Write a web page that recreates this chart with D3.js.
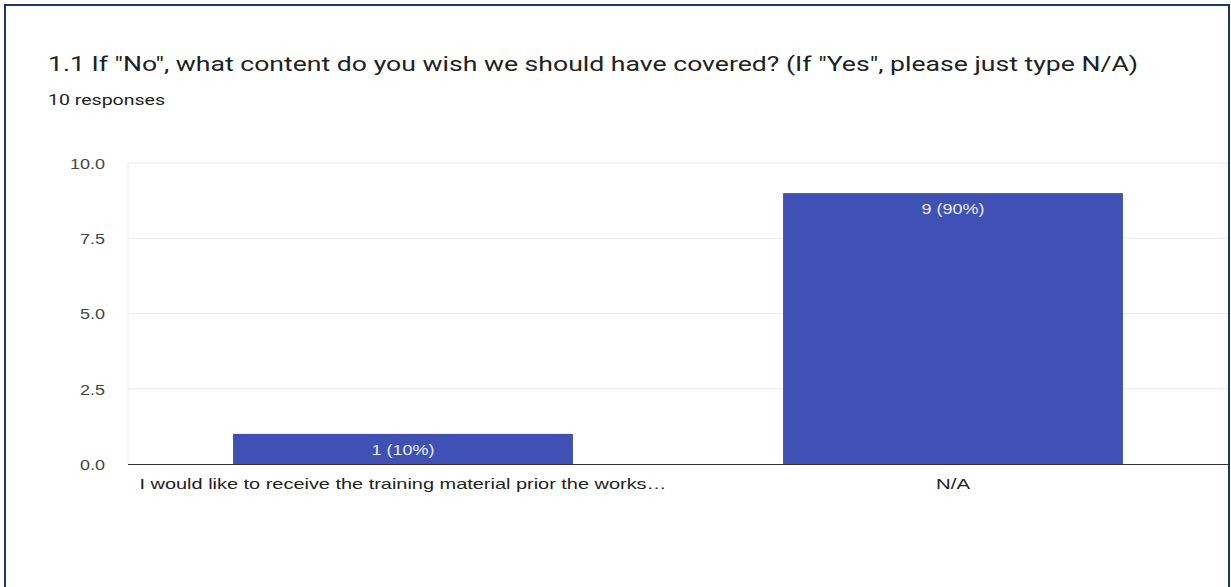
<!DOCTYPE html>
<html><head><meta charset="utf-8">
<script src="https://cdn.jsdelivr.net/npm/d3@7"></script>
<style>body{margin:0;background:#fff;}svg{display:block;}</style>
</head><body>
<script>
const title = '1.1 If "No", what content do you wish we should have covered? (If "Yes", please just type N/A)';
const subtitle = '10 responses';
const categories = ['I would like to receive the training material prior the works…', 'N/A'];
const values = [1, 9];
const labels = ['1 (10%)', '9 (90%)'];
const yTicks = [0, 2.5, 5, 7.5, 10];

const W = 1231, H = 587;
const STRETCH = 1.32;
function stretch(sel, k) {
  sel.each(function() {
    const n = this.getComputedTextLength();
    d3.select(this).attr('textLength', n * k).attr('lengthAdjust', 'spacingAndGlyphs');
  });
}

const svg = d3.select('body').append('svg').attr('width', W).attr('height', H);
svg.append('rect').attr('x',0).attr('y',0).attr('width',W).attr('height',H).attr('fill','#fff');
svg.append('path').attr('d', `M5,${H+2} L5,5 L1229,5 L1229,${H+2}`).attr('fill','none').attr('stroke','#1c3577').attr('stroke-width',2);

const t1 = svg.append('text').attr('x',48).attr('y',71).attr('font-family','Roboto, sans-serif').attr('font-size',21).attr('fill','#202124').text(title);
t1.attr('textLength', 1090).attr('lengthAdjust','spacingAndGlyphs');
const t2 = svg.append('text').attr('x',48).attr('y',105).attr('font-family','Roboto, sans-serif').attr('font-size',15).attr('fill','#202124').text(subtitle);
t2.attr('textLength', 117).attr('lengthAdjust','spacingAndGlyphs');

const y = d3.scaleLinear().domain([0,10]).range([464,163]);
const x = d3.scaleBand().domain(categories).range([128,1228]).paddingInner(0.382).paddingOuter(0.191);

svg.append('g').selectAll('line').data(yTicks.filter(t=>t>0)).join('line')
  .attr('x1',128).attr('x2',1228).attr('y1',d=>y(d)).attr('y2',d=>y(d))
  .attr('stroke','#ebebeb').attr('stroke-width',1);
svg.append('line').attr('x1',128).attr('x2',128).attr('y1',163).attr('y2',464).attr('stroke','#ebebeb');

const yAxis = d3.axisLeft(y).tickValues(yTicks).tickFormat(d3.format('.1f')).tickSize(0).tickPadding(23);
const ya = svg.append('g').attr('transform','translate(128,0)').call(yAxis);
ya.select('.domain').remove();
ya.selectAll('text').attr('font-family','Liberation Sans, Arial, sans-serif').attr('font-size',15).attr('fill','#444').attr('dy','0.35em');
stretch(ya.selectAll('text'), 1.2);

svg.append('g').selectAll('rect').data(values).join('rect')
  .attr('x',(d,i)=>x(categories[i])).attr('width',x.bandwidth())
  .attr('y',d=>y(d)).attr('height',d=>y(0)-y(d)).attr('fill','#3f51b5');

const bl = svg.append('g').selectAll('text').data(values).join('text')
  .attr('x',(d,i)=>x(categories[i])+x.bandwidth()/2).attr('y',d=>y(d)+21)
  .attr('text-anchor','middle').attr('font-family','Liberation Sans, Arial, sans-serif').attr('font-size',15).attr('fill','#e8eaf6')
  .text((d,i)=>labels[i]);
stretch(bl, 1.2);

svg.append('line').attr('x1',128).attr('x2',1228).attr('y1',464.5).attr('y2',464.5).attr('stroke','#333').attr('stroke-width',1.2);

const xAxis = d3.axisBottom(x).tickSize(0).tickPadding(14);
const xa = svg.append('g').attr('transform','translate(0,464)').call(xAxis);
xa.select('.domain').remove();
xa.selectAll('text').attr('font-family','Liberation Sans, Arial, sans-serif').attr('font-size',15).attr('fill','#222').attr('dy','0.75em');
const xTargets = [527, 34];
xa.selectAll('text').each(function(d,i){ d3.select(this).attr('textLength', xTargets[i]).attr('lengthAdjust','spacingAndGlyphs'); });
</script>
</body></html>
